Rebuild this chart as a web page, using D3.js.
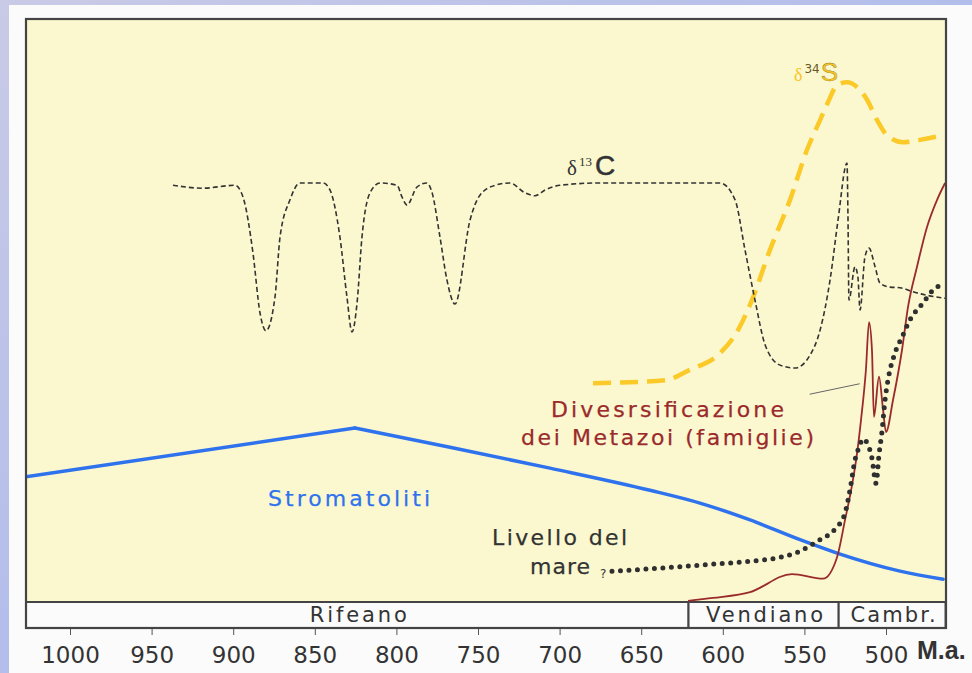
<!DOCTYPE html>
<html><head><meta charset="utf-8">
<script src="https://cdn.jsdelivr.net/npm/d3@7"></script>
<style>body{margin:0;background:#fff}svg{display:block}</style>
</head><body><div id="chart"></div>
<script>
// ---- data (age in Ma, relative level 0-100) ----
const tickLabels = [1000, 950, 900, 850, 800, 750, 700, 650, 600, 550, 500];
const periods = [
  {name: "Rifeano", from: 1027, to: 621},
  {name: "Vendiano", from: 621, to: 529},
  {name: "Cambr.", from: 529, to: 463.5}
];
const stromAge = [1027, 825.4, 767.2, 705.9, 644.6, 614, 583.3, 552.7, 530, 491.4, 465];
const stromVal = [21.5, 29.9, 26.6, 23.0, 19.2, 17.0, 14.1, 10.7, 8.4, 5.3, 3.9];

const c13Age = [936.9, 918.5, 898.9, 894.0, 887.9, 883.6, 879.9, 874.4, 871.3, 865.2, 859.1, 845.0, 840.7, 834.6, 830.3, 827.2, 824.1, 821.1, 816.2, 810.0, 799.6, 796.6, 793.5, 787.4, 781.3, 778.2, 773.3, 769.0, 764.1, 754.9, 748.8, 739.6, 730.4, 721.2, 715.1, 708.9, 699.8, 675.2, 601.7, 592.5, 586.4, 580.3, 574.1, 564.9, 555.8, 546.6, 540.4, 534.3, 529.4, 523.9, 523.3, 522.7, 519.0, 517.2, 515.9, 512.9, 510.4, 506.7, 503.7, 497.5, 491.4, 483.5, 474.9, 463.8];
const c13Val = [71.6, 71.1, 71.6, 69.6, 60.0, 49.7, 46.6, 52.4, 62.7, 69.1, 72.0, 72.0, 70.8, 62.7, 52.4, 46.4, 51.4, 62.7, 70.3, 72.0, 71.6, 69.6, 68.2, 71.3, 72.0, 70.4, 62.7, 55.3, 51.2, 65.6, 69.9, 71.6, 72.0, 70.3, 69.8, 70.8, 71.6, 72.0, 72.0, 69.1, 60.5, 51.9, 44.2, 40.7, 40.2, 42.4, 46.7, 55.3, 65.6, 75.4, 66.2, 51.9, 57.6, 55.8, 50.2, 59.3, 60.8, 57.6, 54.8, 54.1, 54.0, 53.3, 52.7, 52.2];

const s34Age = [679.5, 635.4, 620.1, 603.1, 590.7, 582.1, 571.1, 558.8, 548.4, 540.4, 535.5, 530.0, 523.9, 517.8, 511.6, 505.5, 499.4, 489.6, 479.2, 465.1];
const s34Val = [37.6, 38.1, 39.9, 42.4, 46.7, 51.9, 60.5, 69.1, 77.7, 82.8, 85.9, 88.8, 89.3, 88.5, 86.3, 82.8, 80.2, 79.0, 79.4, 80.2];

const metaAge = [621.3, 606.0, 583.3, 557.6, 538.6, 530.0, 525.1, 521.4, 518.3, 515.3, 512.3, 510.4, 508.6, 507.4, 504.3, 501.8, 500.0, 495.7, 490.2, 486.5, 481.0, 474.9, 468.7, 463.8];
const metaVal = [0.2, 0.7, 1.7, 4.8, 4.0, 7.7, 14.1, 19.2, 24.4, 31.3, 39.9, 48.1, 43.3, 31.8, 38.7, 33.0, 29.2, 34.7, 43.3, 50.7, 57.6, 64.4, 69.1, 72.0];

const seaAge = [667.9, 644.6, 610.9, 583.3, 566.2, 553.9, 540.4, 531.3, 525.1, 522.1, 519.0, 516.5, 514.1, 511.0, 508.6, 506.1, 504.3, 502.5, 500.6, 498.8, 494.5, 490.2, 485.3, 477.3, 471.2, 463.8];
const seaVal = [5.3, 5.7, 6.4, 7.0, 7.6, 8.6, 10.7, 12.5, 15.3, 19.2, 24.4, 26.6, 28.0, 27.0, 24.7, 20.4, 25.3, 29.2, 34.7, 38.1, 42.8, 45.5, 48.5, 51.4, 53.6, 54.6];

// ---- layout ----
const W = 972, H = 673;
const L = 26, R = 946, T = 20, B = 602, BAND = 628;
const SANS = "'DejaVu Sans', Verdana, sans-serif";
const svg = d3.select("#chart").append("svg").attr("width", W).attr("height", H).style("font-family", SANS);
const defs = svg.append("defs");
const g = defs.append("linearGradient").attr("id", "bg").attr("x1", 0).attr("y1", 0).attr("x2", 1).attr("y2", 1);
g.append("stop").attr("offset", 0).attr("stop-color", "#c9cae6");
g.append("stop").attr("offset", 1).attr("stop-color", "#9cb1f0");
defs.append("clipPath").attr("id", "clip").append("rect").attr("x", L).attr("y", T).attr("width", R - L).attr("height", B - T);

svg.append("rect").attr("width", W).attr("height", H).attr("fill", "url(#bg)");
svg.append("rect").attr("x", 9).attr("y", 5).attr("width", W - 9).attr("height", H - 5).attr("fill", "#fbfbfb");

const x = d3.scaleLinear().domain([1000, 500]).range([70, 886]);
const y = d3.scaleLinear().domain([0, 100]).range([B, T]);

// plot background
svg.append("rect").attr("x", L).attr("y", T).attr("width", R - L).attr("height", B - T).attr("fill", "#fbf8d0");

// period band
const band = svg.append("g");
band.selectAll("rect").data(periods).join("rect")
  .attr("x", d => Math.max(L, x(d.from))).attr("y", B)
  .attr("width", d => Math.min(R, x(d.to)) - Math.max(L, x(d.from))).attr("height", BAND - B)
  .attr("fill", "#fbfbfb").attr("stroke", "#444").attr("stroke-width", 2);
const bandLen = {"Rifeano": 97, "Vendiano": 117, "Cambr.": 85};
band.selectAll("text").data(periods).join("text")
  .attr("x", d => (Math.max(L, x(d.from)) + Math.min(R, x(d.to))) / 2 + 1).attr("y", 622)
  .attr("text-anchor", "middle").attr("font-size", 21).attr("fill", "#333")
  .attr("textLength", d => bandLen[d.name]).attr("lengthAdjust", "spacing")
  .text(d => d.name);

const plot = svg.append("g").attr("clip-path", "url(#clip)");
const line = (ages, vals, curve, idx) => d3.line().x(i => x(ages[i])).y(i => y(vals[i])).curve(curve)(idx || d3.range(ages.length));

// stromatolites: straight rise to the peak, smooth decline after it
plot.append("path").attr("d", line(stromAge, stromVal, d3.curveLinear, [0, 1]))
  .attr("fill", "none").attr("stroke", "#2f72ee").attr("stroke-width", 3.5).attr("stroke-linecap", "round");
plot.append("path").attr("d", line(stromAge, stromVal, d3.curveMonotoneX, d3.range(1, stromAge.length)))
  .attr("fill", "none").attr("stroke", "#2f72ee").attr("stroke-width", 3.5).attr("stroke-linecap", "round");
// delta 34S
plot.append("path").attr("d", line(s34Age, s34Val, d3.curveMonotoneX))
  .attr("fill", "none").attr("stroke", "#fbc928").attr("stroke-width", 4.5).attr("stroke-dasharray", "18 9");
// delta 13C
plot.append("path").attr("d", line(c13Age, c13Val, d3.curveMonotoneX))
  .attr("fill", "none").attr("stroke", "#333").attr("stroke-width", 1.6).attr("stroke-dasharray", "5 3");
// metazoa
plot.append("path").attr("d", line(metaAge, metaVal, d3.curveMonotoneX))
  .attr("fill", "none").attr("stroke", "#9a2a2c").attr("stroke-width", 1.8);
// sea level
plot.append("path").attr("d", line(seaAge, seaVal, d3.curveMonotoneX))
  .attr("fill", "none").attr("stroke", "#2f2f2f").attr("stroke-width", 5).attr("stroke-linecap", "round").attr("stroke-dasharray", "0 8.5");

// pointer line
svg.append("line").attr("x1", x(546.8)).attr("y1", y(35.7)).attr("x2", x(516.1)).attr("y2", y(37.5))
  .attr("stroke", "#666").attr("stroke-width", 1);

// frame
svg.append("rect").attr("x", L).attr("y", T - 1).attr("width", R - L).attr("height", BAND - T + 1)
  .attr("fill", "none").attr("stroke", "#444").attr("stroke-width", 2.2);

// axis
const ax = svg.append("g").attr("transform", `translate(0,${BAND + 1})`)
  .call(d3.axisBottom(x).tickValues(tickLabels).tickSize(6).tickPadding(12).tickFormat(d3.format("d")));
ax.select(".domain").remove();
ax.selectAll(".tick line").attr("stroke", "#555");
ax.attr("font-family", null);
ax.selectAll(".tick text").attr("font-size", 23).attr("fill", "#333").style("font-family", SANS);
svg.append("text").attr("x", 917).attr("y", 659).attr("font-size", 25).attr("font-weight", "bold").attr("fill", "#333")
  .style("font-family", "'Liberation Sans', Arial, sans-serif").text("M.a.");

// labels
const SERIF = "'Liberation Serif', serif";
const t13 = svg.append("text").attr("x", 567).attr("y", 175).attr("fill", "#333");
t13.append("tspan").attr("font-size", 21).style("font-family", SERIF).text("δ");
t13.append("tspan").attr("font-size", 13).attr("dy", -9).attr("dx", 2).style("font-family", SERIF).text("13");
t13.append("tspan").attr("font-size", 28).attr("dy", 9).attr("dx", 3).attr("stroke", "#333").attr("stroke-width", 0.5)
  .style("font-family", "'Liberation Sans', sans-serif").text("C");

const t34 = svg.append("text").attr("x", 794).attr("y", 81).attr("fill", "#f8c520");
t34.append("tspan").attr("font-size", 18).style("font-family", SERIF).text("δ");
t34.append("tspan").attr("font-size", 12).attr("dy", -8).attr("dx", 2).attr("fill", "#6a5a20").text("34");
t34.append("tspan").attr("font-size", 26).attr("dy", 8).attr("dx", 1).attr("stroke", "#8a7a30").attr("stroke-width", 0.4)
  .style("font-family", "'Liberation Sans', sans-serif").text("S");

const label = (txt, x0, y0, len, color) => svg.append("text").attr("x", x0).attr("y", y0).attr("font-size", 22)
  .attr("fill", color).attr("stroke", color).attr("stroke-width", 0.25)
  .attr("textLength", len).attr("lengthAdjust", "spacing").text(txt);
label("Divesrsificazione", 551, 417, 233, "#9a2a2c");
label("dei Metazoi (famiglie)", 521, 445, 293, "#9a2a2c");
label("Stromatoliti", 268, 506, 162, "#2f72ee");
label("Livello del", 492, 545, 135, "#333");
label("mare", 530, 574, 60, "#333");
svg.append("text").attr("x", 600).attr("y", 578).attr("font-size", 12).attr("fill", "#333").text("?");
</script></body></html>
